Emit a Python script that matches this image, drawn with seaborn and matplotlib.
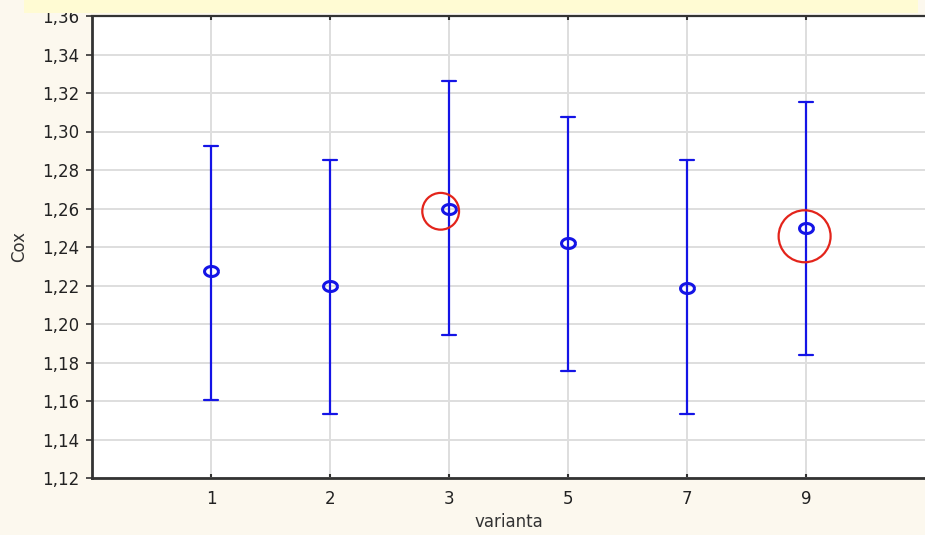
import numpy as np
import pandas as pd
import matplotlib
matplotlib.use("Agg")
import matplotlib.pyplot as plt
from matplotlib.path import Path
from matplotlib.patches import Rectangle
from matplotlib.ticker import FuncFormatter
import matplotlib.transforms as mtransforms
import seaborn as sns

# ---- data ----
categories = ["1", "2", "3", "5", "7", "9"]
means = [1.2275, 1.2197, 1.2600, 1.2421, 1.2187, 1.2499]
upper = [1.2925, 1.2852, 1.3262, 1.3075, 1.2852, 1.3153]
lower = [1.1605, 1.1532, 1.1943, 1.1756, 1.1532, 1.1839]
highlight = ["3", "9"]
highlight_size = [700, 1400]
y_ticks = [1.12, 1.14, 1.16, 1.18, 1.20, 1.22, 1.24, 1.26, 1.28, 1.30, 1.32, 1.34, 1.36]

# long table: lower / mean / upper per variant -> median = mean, min/max = interval
rows = []
for c, lo, m, hi in zip(categories, lower, means, upper):
    for v in (lo, m, hi):
        rows.append({"varianta": c, "Cox": v})
df = pd.DataFrame(rows)

sns.set_theme(style="white")
plt.rcParams["font.family"] = ["DejaVu Sans"]

BG = "#fcf8ee"
BLUE = "#1414e6"
fig = plt.figure(figsize=(9.25, 5.35), dpi=100, facecolor=BG)

# yellow band at the top
fig.patches.append(Rectangle((24 / 925, 1 - 13 / 535), (918 - 24) / 925, 13 / 535,
                             transform=fig.transFigure, facecolor="#fffbd3",
                             edgecolor="none", zorder=0))

ax = fig.add_axes([92 / 925, 57 / 535, (925 - 92) / 925, (478 - 16) / 535])
ax.set_facecolor("white")

# slightly oval marker like the reference
t = np.linspace(0, 2 * np.pi, 60)
oval = Path(np.column_stack([np.cos(t), 0.72 * np.sin(t)]))

sns.pointplot(data=df, x="varianta", y="Cox", order=categories,
              estimator="median", errorbar=lambda v: (v.min(), v.max()),
              color=BLUE, capsize=0.12, linestyle="none", marker=oval,
              markersize=10, markerfacecolor="none", markeredgewidth=2.2,
              err_kws={"linewidth": 1.6}, ax=ax, zorder=3)
for ln in ax.lines:
    ln.set_markerfacecolor("none")

# red highlight circles around selected means
pos = {c: i for i, c in enumerate(categories)}
offsets = {"3": (-6, -2), "9": (-1, -6)}
for c, s in zip(highlight, highlight_size):
    dx, dy = offsets[c]
    tr = mtransforms.offset_copy(ax.transData, fig=fig, x=dx, y=dy, units="points")
    ax.scatter([pos[c]], [means[categories.index(c)]], s=s, facecolors="none",
               edgecolors="#e3241b", linewidths=1.6, transform=tr, zorder=4)

ax.set_xlim(-1, 6)
ax.set_ylim(1.12, 1.36)
ax.set_yticks(y_ticks)
ax.yaxis.set_major_formatter(FuncFormatter(lambda v, p: f"{v:.2f}".replace(".", ",")))

ax.grid(True, color="#dedede", linewidth=1.4)
ax.set_axisbelow(True)

for side in ("left", "bottom"):
    ax.spines[side].set_color("#333333")
    ax.spines[side].set_linewidth(2)
ax.spines["top"].set_color("#333333")
ax.spines["top"].set_linewidth(1.6)
ax.spines["right"].set_visible(False)

ax.tick_params(axis="y", left=True, right=True, direction="out", length=4,
               width=1.2, color="#333333", labelsize=12, labelcolor="#222222", pad=5)
ax.tick_params(axis="x", bottom=True, top=True, direction="in", length=3,
               width=1.5, color="#333333", labelsize=12, labelcolor="#222222", pad=9)

ax.set_xlabel("varianta", fontsize=12, color="#333333", labelpad=3)
ax.set_ylabel("Cox", fontsize=12, color="#333333", labelpad=10)

fig.savefig("out.png", dpi=100, facecolor=BG)
